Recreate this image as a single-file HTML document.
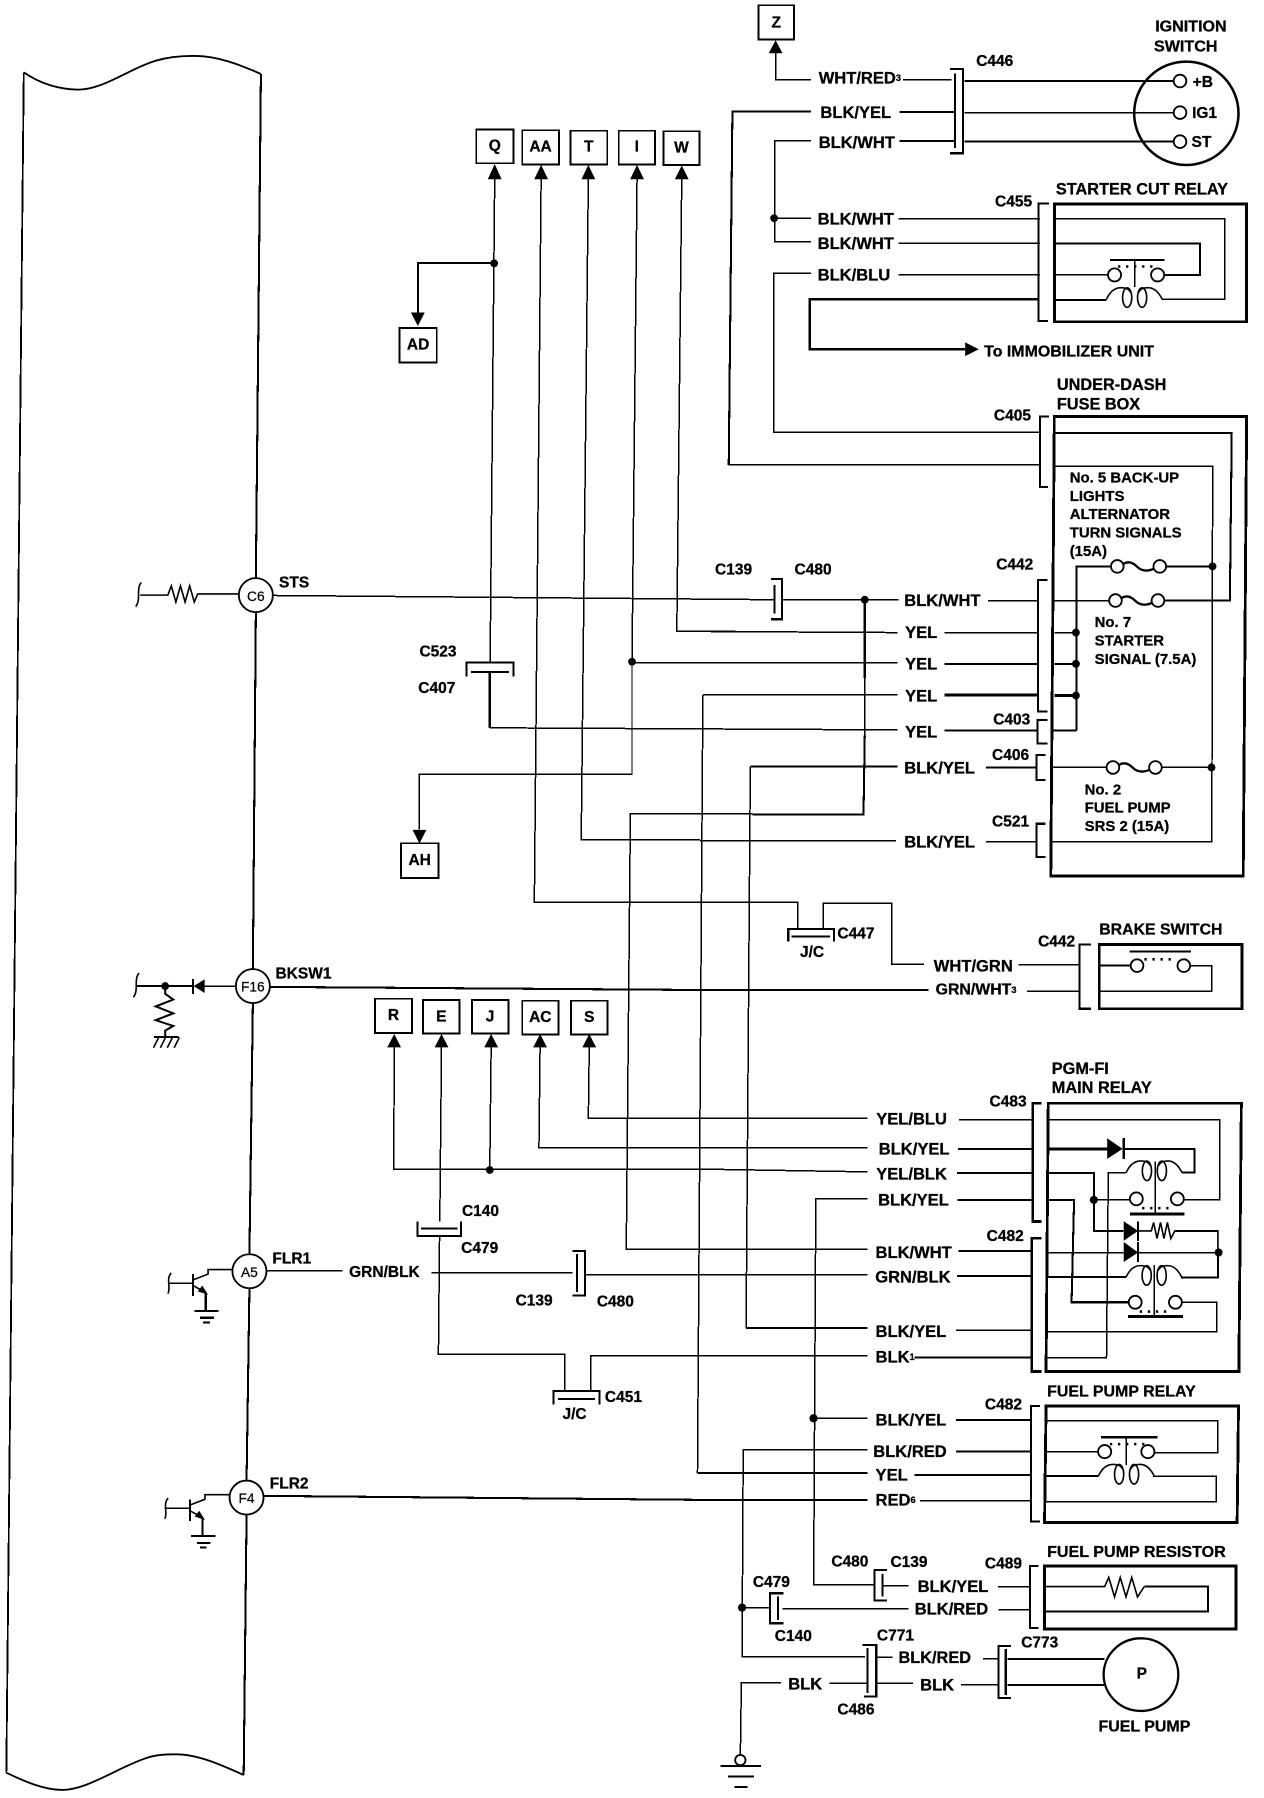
<!DOCTYPE html>
<html><head><meta charset="utf-8"><title>Wiring diagram</title>
<style>
html,body{margin:0;padding:0;background:#fff}
svg{display:block}
.w{fill:none;stroke:#000;stroke-width:1.3;shape-rendering:crispEdges}
.h{fill:none;stroke:#000;stroke-width:1.8;shape-rendering:crispEdges}
.x{fill:none;stroke:#000;stroke-width:2.5;shape-rendering:crispEdges}
.n{fill:none;stroke:#000;stroke-width:1.4}
.o{fill:#fff;stroke:#000;stroke-width:1.6}
.d{fill:none;stroke:#000;stroke-width:2.2;stroke-dasharray:2 5}
.b{fill:#000;stroke:none}
text{font-family:"Liberation Sans",sans-serif;font-weight:700;fill:#000;dominant-baseline:central;stroke:#000;stroke-width:.25}
.l{font-size:14.4px}
.c{font-size:13.5px}
.t{font-size:14.2px}
.f{font-size:13px}
.p{font-size:12px;font-weight:400;text-anchor:middle;stroke-width:.2}
.m{text-anchor:middle;font-size:13.5px}
</style></head><body>
<svg xmlns="http://www.w3.org/2000/svg" width="1264" height="1798" viewBox="0 0 1100 1565">
<defs>
<g id="coil"><path class="n" d="M0 0Q5-11 14-10Q19-10 21-6M48.5 0Q43-11 35-10Q30-10 28-6"/><ellipse class="n" cx="18" cy="-1.5" rx="4" ry="8.5"/><ellipse class="n" cx="31" cy="-1.5" rx="4" ry="8.5"/></g>
<g id="fuse"><path class="n" style="stroke-width:2" d="M5-2Q11-6 17 0T32 2"/><circle class="o" cx="0" cy="0" r="5.5"/><circle class="o" cx="37" cy="0" r="5.5"/></g>
<g id="tran"><path class="w" d="M146 0H167"/><path class="h" d="M168-8V11"/><path class="n" d="M146 9C149 4 144-4 149-9"/><path class="n" d="M168-3L181-8V-12H203M168 2L179 8"/><path class="b" d="M181 10L172 7L176 2Z"/><path class="h" d="M179 8V24"/><path class="h" d="M169 24H190"/><path class="h" d="M174 30H186"/><path class="h" d="M176.500 34H182.500"/></g>
</defs>
<rect width="1100" height="1565" fill="#fff"/>

<!-- PCM outline -->
<path class="n" style="stroke-width:1.6" d="M20.600 63C35 73 52 78 68 78C90 78 112 60 135 53C148 49 160 48.500 170 48.700C190 49 208 56 227 64.400"/>
<path class="h" d="M227 64.400L222.600 503M222.600 533L220 844M220 873L217 1092M217 1122L214.500 1289M214.500 1319L212 1545"/>
<path class="w" style="stroke-width:1.6" d="M20.600 63L5.400 1543"/>
<path class="n" style="stroke-width:1.6" d="M5.400 1543C20 1550 38 1558 54 1558C75 1558 100 1540 125 1531C135 1527 145 1527 153 1527C172 1527 192 1536 212 1545"/>

<!-- Pins -->
<circle class="o" cx="222.600" cy="518" r="14.800"/><text class="p" x="222.600" y="519">C6</text>
<circle class="o" cx="220" cy="858.300" r="14.800"/><text class="p" x="220" y="859">F16</text>
<circle class="o" cx="217" cy="1106.500" r="14.800"/><text class="p" x="217" y="1107.500">A5</text>
<circle class="o" cx="214.500" cy="1303.500" r="14.800"/><text class="p" x="214.500" y="1304.500">F4</text>
<text class="c" x="242.800" y="507.300">STS</text>
<text class="c" x="239.700" y="847.700">BKSW1</text>
<text class="c" x="237" y="1096">FLR1</text>
<text class="c" x="234.700" y="1291.500">FLR2</text>

<!-- left internal parts -->
<path class="n" d="M118 528C123 522 118 512 123 507"/>
<path class="n" d="M122 518H146L149 510L153 524L157 510L161 524L165 510L169 524L172 517H208"/>
<path class="n" d="M116 868C121 862 116 852 121 847"/>
<path class="h" d="M118.500 858.300H167"/><path class="h" d="M167.800 852V865"/>
<path class="b" d="M168.500 858.300L178 852.300V864.300Z"/><path class="w" d="M178 858.300H205"/>
<circle class="b" cx="143.700" cy="858.300" r="3.400"/>
<path class="n" style="stroke-width:1.8" d="M143.700 858V865L150.700 870L135.500 876L150.700 882L135.500 888L150.700 893L143.700 897V903"/>
<path class="h" d="M134 902.700H155.400"/>
<path class="n" d="M138 903L133.500 912M144 903L139.500 912M150 903L145.500 912M156 903L151.500 912"/>
<use href="#tran" transform="translate(0 1117)"/>
<use href="#tran" transform="translate(-2.700 1313)"/>

<!-- Q, AA, T, I, W boxes -->
<g>
<rect class="w" style="stroke-width:1.6" x="414.500" y="112.600" width="32.300" height="29.500"/>
<rect class="w" style="stroke-width:1.6" x="454.500" y="113.400" width="31.900" height="29.900"/>
<rect class="w" style="stroke-width:1.6" x="496.500" y="113.800" width="31.900" height="29.500"/>
<rect class="w" style="stroke-width:1.6" x="538.500" y="113.800" width="31.500" height="29.500"/>
<rect class="w" style="stroke-width:1.6" x="577.300" y="114.300" width="31.500" height="29.300"/>
<rect class="w" style="stroke-width:1.6" x="347.700" y="285.500" width="32.300" height="29.900"/>
<rect class="w" style="stroke-width:1.6" x="349" y="734" width="32.500" height="30.300"/>
<rect class="w" style="stroke-width:1.6" x="326.300" y="869.300" width="32.300" height="29.700"/>
<rect class="w" style="stroke-width:1.6" x="368" y="870.300" width="32" height="29.400"/>
<rect class="w" style="stroke-width:1.6" x="410.600" y="870.300" width="31.900" height="29.400"/>
<rect class="w" style="stroke-width:1.6" x="454.500" y="871" width="31.500" height="29.400"/>
<rect class="w" style="stroke-width:1.6" x="496.900" y="871" width="31.800" height="29.400"/>
<rect class="w" style="stroke-width:1.6" x="660" y="4.500" width="31" height="30"/>
</g>
<text class="m" x="430.600" y="127">Q</text><text class="m" x="470.400" y="128">AA</text><text class="m" x="512.400" y="128">T</text><text class="m" x="554.200" y="128">I</text><text class="m" x="593" y="129">W</text>
<text class="m" x="363.800" y="300.500">AD</text><text class="m" x="365.200" y="749">AH</text>
<text class="m" x="342.400" y="884">R</text><text class="m" x="384" y="885">E</text><text class="m" x="426.500" y="885">J</text><text class="m" x="470.200" y="885.500">AC</text><text class="m" x="512.800" y="885.500">S</text>
<text class="m" x="675.500" y="20">Z</text>

<!-- arrowheads -->
<path class="b" d="M430.500 142.700L424.500 156H436.500ZM470.900 143.500L464.900 156H476.900ZM512 143.500L506 156H518ZM554.400 143.500L548.400 156H560.400ZM593.300 144L587.300 156H599.300ZM363.600 283.700L357.600 272H369.600ZM365 734.300L359 722.300H371ZM343 900L337 911.700H349ZM384.200 900L378.200 911.700H390.200ZM427.400 900L421.400 911.700H433.400ZM470 900L464 911.700H476ZM512.800 900L506.800 911.700H518.800ZM675 35L669 46.400H681ZM851.800 304L840 298V310Z"/>

<!-- vertical harness wires -->
<path class="w" d="M430.500 155L426.500 576.700"/>
<path class="h" d="M430 229H363.600V272"/>
<circle class="b" cx="430" cy="229.200" r="3.400"/>
<path class="h" d="M406 589V576.700H446.800V589"/><path class="h" d="M410 585H443"/>
<text class="c" x="365" y="567.300">C523</text><text class="c" x="364" y="599.300">C407</text>
<path class="h" d="M426.200 585V633.500"/>
<path class="w" d="M426.200 633.500L781 635.300"/>
<path class="w" d="M470.900 155L465 785.500H694.400V808.800"/>
<path class="w" d="M512 155L505.800 731H609"/>
<path class="w" d="M554.400 155L550 576V673.800H365V722"/>
<circle class="b" cx="550" cy="576" r="3.400"/>
<path class="w" d="M593.300 155L589 549.500H640"/>
<path class="w" d="M550 576.700H781"/>
<path class="w" d="M589 549.500L781 550.600"/>
<path class="w" d="M237 518.300L674 522"/>

<!-- Top section -->
<path class="w" d="M675 46V69.600H706"/>
<text class="l" x="712.500" y="68">WHT/RED<tspan font-size="8">3</tspan></text>
<path class="w" d="M786 69.600H828"/>
<path class="h" d="M827 60H838V133.400H827"/><path class="h" d="M831 64V129"/>
<text class="c" x="849.600" y="53.700">C446</text>
<path class="h" d="M839.300 70.500H1021.900"/>
<path class="w" d="M839.300 98H1021.900"/>
<path class="h" d="M839.300 123.300H1021.900"/>
<ellipse class="n" style="stroke-width:2.2" cx="1032.500" cy="98.600" rx="45.400" ry="45"/>
<circle class="o" cx="1027" cy="70.500" r="5.500"/><circle class="o" cx="1027" cy="98" r="5.500"/><circle class="o" cx="1027" cy="123.300" r="5.500"/>
<text class="c" x="1038" y="72">+B</text><text class="c" x="1037.500" y="99">IG1</text><text class="c" x="1037" y="124">ST</text>
<text class="c" x="1036.500" y="23" text-anchor="middle" style="font-size:14px">IGNITION</text>
<text class="c" x="1032" y="40.600" text-anchor="middle" style="font-size:14px">SWITCH</text>

<text class="l" x="714" y="98">BLK/YEL</text>
<path class="h" d="M706 97H637.400L634.200 404.600"/>
<path class="w" d="M634.200 404.600H905"/>
<path class="h" d="M783 97.500H831"/>
<text class="l" x="712.500" y="124">BLK/WHT</text>
<path class="w" d="M706 122.700H674.300V210.300H706"/>
<path class="h" d="M783 122.700H831"/>
<circle class="b" cx="673.700" cy="190" r="3.400"/>
<path class="w" d="M674 190H706"/>
<text class="l" x="711.600" y="190.600">BLK/WHT</text>
<text class="l" x="711.600" y="211.800">BLK/WHT</text>
<text class="l" x="711.600" y="239.300">BLK/BLU</text>
<path class="w" d="M782 190.600H905M782 211.800H905M782 239.300H905"/>
<path class="w" d="M706 238H673.400V376.300H905"/>

<!-- Starter cut relay -->
<text class="t" x="919" y="165">STARTER CUT RELAY</text>
<text class="c" x="866" y="176">C455</text>
<path class="h" d="M913 177H904V279.400H912"/>
<rect class="x" x="917.600" y="177.500" width="167.400" height="102.500"/>
<path class="w" d="M917.600 190.600H1066V260.500H1011.500"/>
<path class="h" d="M917.600 211.800H1044.400V239.300H1013"/>
<path class="w" d="M917.600 239.300H964.500"/>
<path class="h" d="M917.600 261H963"/>
<path class="h" d="M966 226.300H1013.700"/>
<path class="d" d="M973 232H1006"/>
<path class="w" d="M987.400 226V250"/>
<circle class="o" cx="970" cy="239.300" r="5.700"/><circle class="o" cx="1007.500" cy="239.300" r="5.700"/>
<use href="#coil" transform="translate(963 260.500)"/>
<path class="h" d="M903.500 260.500H704.700V304H840"/>
<text class="c" x="856.500" y="306.600" style="font-size:13.900px">To IMMOBILIZER UNIT</text>

<!-- Under-dash fuse box -->
<text class="t" x="919.800" y="335">UNDER-DASH</text>
<text class="t" x="919.800" y="352">FUSE BOX</text>
<text class="c" x="865" y="362">C405</text>
<path class="h" d="M913 362.600H905V424H912"/>
<path class="x" d="M914.500 762.400H1082L1085 362.600H917.600Z"/>
<path class="h" d="M917.600 377H1072L1070.400 522.700H1013"/>
<path class="w" d="M917.600 406H1055.400L1054.700 732.500H914.500"/>
<circle class="b" cx="1055.300" cy="493" r="3.400"/><circle class="b" cx="1054.400" cy="668" r="3.400"/>
<path class="h" d="M936.800 636V493H966M1015 493H1055"/>
<path class="h" d="M936.800 636H916"/>
<use href="#fuse" transform="translate(972.400 493)"/>
<path class="w" d="M917.600 522.700H966"/>
<use href="#fuse" transform="translate(970.800 522.700)"/>
<path class="w" d="M915.400 668H963M1010 668H1054"/>
<use href="#fuse" transform="translate(968.600 668)"/>
<path class="w" d="M917.600 550.600H936"/><path class="h" d="M917.600 577.800H936"/><path class="x" d="M917.600 605.400H936"/>
<circle class="b" cx="936.400" cy="550.600" r="3.400"/><circle class="b" cx="936.400" cy="577.800" r="3.400"/><circle class="b" cx="936.400" cy="605.400" r="3.400"/>
<text class="f" x="931" y="416">No. 5 BACK-UP</text>
<text class="f" x="931" y="432">LIGHTS</text>
<text class="f" x="931" y="448">ALTERNATOR</text>
<text class="f" x="931" y="464">TURN SIGNALS</text>
<text class="f" x="931" y="480">(15A)</text>
<text class="f" x="952.700" y="542">No. 7</text>
<text class="f" x="952.700" y="558">STARTER</text>
<text class="f" x="952.700" y="574">SIGNAL (7.5A)</text>
<text class="f" x="944" y="687.500">No. 2</text>
<text class="f" x="944" y="703.500">FUEL PUMP</text>
<text class="f" x="944" y="719.500">SRS 2 (15A)</text>

<path class="h" d="M911.500 505H903.500V619.300H911.500"/>
<path class="h" d="M911.500 626.600H903V647H911.500"/>
<path class="h" d="M910 657H902V678.800H910"/>
<path class="h" d="M909.800 717H902V746H909.800"/>
<text class="c" x="867" y="491.700">C442</text><text class="c" x="864.400" y="626.600">C403</text><text class="c" x="863.400" y="657.600">C406</text><text class="c" x="863.400" y="715.600">C521</text>
<text class="c" x="622.300" y="496">C139</text><text class="c" x="691.500" y="496">C480</text>
<path class="h" d="M671 504H680.600V539H671"/><path class="h" d="M674 509V534"/>
<path class="w" d="M681 522H782"/>
<circle class="b" cx="752.600" cy="522" r="3.400"/>
<path class="h" d="M752.600 522V590"/><path class="w" d="M752.600 590V640"/><path class="h" d="M752.600 640L751.500 709H655"/><path class="w" d="M655 708.500H548.600L545 1087.500H755"/>

<text class="l" x="787" y="522.700">BLK/WHT</text>
<text class="l" x="787.700" y="550.600">YEL</text>
<text class="l" x="787.700" y="578">YEL</text>
<text class="l" x="787.700" y="606">YEL</text>
<text class="l" x="787.700" y="637">YEL</text>
<text class="l" x="787" y="668.600">BLK/YEL</text>
<text class="l" x="787" y="733">BLK/YEL</text>
<path class="w" d="M859.700 523H903.500M822 550.600H903"/>
<path class="h" d="M822 577.800H903"/><path class="x" d="M822 604.800H903"/><path class="h" d="M822 636H903M858 668H902"/>
<path class="w" d="M858 732.500H902"/>
<path class="w" d="M611.700 604.800H781"/>
<path class="w" d="M611.700 604.800L607 1282.300"/><path class="h" d="M607 1282.300H755"/>
<path class="h" d="M653 667H781"/>
<path class="w" d="M653 667L649.300 1156"/><path class="h" d="M649.300 1156H755"/>
<path class="w" d="M609 731.600H780"/>

<!-- C447 brake -->
<path class="h" d="M686 819.600V808.800H725.700V819.600"/><path class="h" d="M689 815H722.500"/>
<path class="w" d="M716.300 808.800V786H776V839.300H804.300"/>
<text class="c" x="696.200" y="829">J/C</text><text class="c" x="728.800" y="812.900">C447</text>
<text class="l" x="812.700" y="840.700">WHT/GRN</text>
<text class="l" x="814.300" y="861.600" style="font-size:13.800px">GRN/WHT<tspan font-size="8">3</tspan></text>
<path class="h" d="M235 859L609 861.700H808"/>
<path class="w" d="M886.300 839.900H939.500M894 863H939.500"/>
<path class="h" d="M949.500 822H939.500V878H949.500"/>
<text class="c" x="903.500" y="820">C442</text>
<text class="t" x="956.700" y="809.400" style="font-size:13.800px">BRAKE SWITCH</text>
<rect class="x" x="956.700" y="822" width="124.300" height="56"/>
<path class="h" d="M956.700 840.500H984"/><path class="w" d="M1035 840.500H1054.700V863H956.700"/>
<path class="h" d="M983 828.300H1036.600"/>
<path class="d" d="M996 835H1024"/>
<circle class="o" cx="989.600" cy="840.500" r="5.500"/><circle class="o" cx="1030.300" cy="840.500" r="5.500"/>

<!-- lower harness -->
<path class="w" d="M343 911L342.700 1017.600H609L755 1020"/>
<circle class="b" cx="426.200" cy="1018.400" r="3.400"/>
<path class="w" d="M427.400 911L426.200 1018"/>
<path class="w" d="M384.200 911L382.700 1063"/>
<path class="h" d="M363.200 1063V1075.900H401.300V1063"/><path class="h" d="M366.400 1069.300H398.200"/>
<text class="c" x="402" y="1054.500">C140</text><text class="c" x="401.300" y="1086.800">C479</text>
<path class="w" d="M382.500 1076L381.500 1178.900H491.500V1210.700"/>
<path class="h" d="M481.700 1222.400V1210.700H521.800V1222.400"/><path class="h" d="M485.600 1217.700H517.900"/>
<path class="w" d="M514 1210.700V1180H755"/>
<text class="c" x="489.500" y="1231.300">J/C</text><text class="c" x="526.400" y="1216.500">C451</text>
<path class="w" d="M470 911L469 999H755"/>
<path class="w" d="M512.800 911L512 973.500H755"/>
<path class="w" d="M232 1106.200H298"/>
<text class="l" x="303.800" y="1107.700" style="font-size:13.500px">GRN/BLK</text>
<path class="w" d="M375.700 1108H498.400"/>
<path class="h" d="M498.400 1088.700H509V1127.600H498.400"/><path class="h" d="M502 1091.400V1124.500"/>
<path class="w" d="M510 1109.700H755"/>
<text class="c" x="448.700" y="1132.200">C139</text><text class="c" x="519.400" y="1133.400">C480</text>
<path class="h" d="M229 1302L609 1305.500H755"/>

<!-- PGM-FI -->
<text class="t" x="915.400" y="930.400">PGM-FI</text><text class="t" x="915.400" y="947">MAIN RELAY</text>
<text class="c" x="861.200" y="959.400">C483</text><text class="c" x="858.700" y="1076.300">C482</text>
<path class="x" d="M906.600 960.300H898.800V1063.300H906.600"/>
<path class="x" d="M906.600 1077.800H897.900V1193.900H906.600"/>
<path class="x" d="M910.400 1193.900H1078.200L1080.400 960.300H912.300Z"/>
<text class="l" x="762.600" y="974">YEL/BLU</text>
<text class="l" x="764.800" y="1000">BLK/YEL</text>
<text class="l" x="762.600" y="1022">YEL/BLK</text>
<text class="l" x="764.200" y="1044.400">BLK/YEL</text>
<text class="l" x="762" y="1090">BLK/WHT</text>
<text class="l" x="761.700" y="1111.700">GRN/BLK</text>
<text class="l" x="762" y="1159">BLK/YEL</text>
<text class="l" x="762" y="1181" >BLK<tspan font-size="8">1</tspan></text>
<path class="w" d="M834.600 974.800H898.800"/><path class="h" d="M833.700 1000H898.800M833 1021H898.800M833.300 1044.400H898.800"/>
<path class="h" d="M834 1089H897M833 1110.500H897"/><path class="w" d="M832 1158H897"/><path class="h" d="M796 1181.400H897"/>
<path class="w" d="M755 1043.500H710L708.100 1379.500H761"/>
<path class="w" d="M912.300 974.800H1061.600V1044.400H1030"/>
<path class="x" d="M912.300 1000H964"/><path class="h" d="M978 1000H1039.700V1020.600H1028.700"/>
<path class="b" d="M963.600 990.700L977 1000L963.600 1008.700Z"/><path class="h" d="M978 990.700V1008.700"/>
<use href="#coil" transform="translate(980.200 1020.600)"/>
<path class="w" d="M980.200 1020.600H964.600L963 1182H910.400"/>
<path class="h" d="M912.300 1021H952V1071.400H978"/>
<path class="w" d="M952 1044.400H984"/>
<circle class="b" cx="952" cy="1044.400" r="3.500"/>
<circle class="o" cx="989" cy="1043.500" r="5.600"/><circle class="o" cx="1024.700" cy="1043.500" r="5.600"/>
<path class="w" d="M1005.300 1011V1056.600"/>
<path class="x" d="M983.300 1056.600H1031"/><path class="d" d="M994 1051.600H1020"/>
<path class="h" d="M912.300 1044.400H934.800L932.600 1133.500H983"/>
<path class="b" d="M978 1063L990.500 1071.400L978 1080Z"/><path class="h" d="M990.500 1063V1080"/>
<path class="n" d="M990.500 1071.400H1002L1004 1064L1007 1078L1010 1064L1013 1078L1016 1064L1019 1078L1022.500 1071.400H1060V1112H1028"/>
<path class="h" d="M1022.500 1071.400H1060"/>
<path class="h" d="M1060 1090V1112H1028"/>
<circle class="b" cx="1060.600" cy="1090.200" r="3.500"/>
<path class="w" d="M911.500 1090.200H978M990.500 1090.200H1060"/>
<path class="b" d="M978 1081L990.500 1090.200L978 1098.500Z"/><path class="h" d="M990.500 1081V1098.500"/>
<path class="h" d="M911.500 1111.700H980"/>
<use href="#coil" transform="translate(980 1111.700)"/>
<path class="w" d="M1004.600 1101V1146"/>
<circle class="o" cx="988" cy="1133.500" r="5.600"/><circle class="o" cx="1023" cy="1133.500" r="5.600"/>
<path class="w" d="M1028.700 1133.500H1059V1159H910.400"/>
<path class="x" d="M981.800 1146H1029.400"/><path class="d" d="M992 1141.600H1018"/>
<path class="w" d="M910.400 1182H963"/>

<!-- Fuel pump relay -->
<text class="t" x="911.300" y="1211.800" style="font-size:13.900px">FUEL PUMP RELAY</text>
<text class="c" x="857.200" y="1222.900">C482</text>
<path class="h" d="M905 1223.700H897.200V1324.400H905"/>
<path class="x" d="M909.100 1325.300H1076.700L1077.900 1223.700H910.400Z"/>
<text class="l" x="762" y="1236">BLK/YEL</text>
<text class="l" x="760" y="1263.500">BLK/RED</text>
<text class="l" x="762" y="1283.800">YEL</text>
<text class="l" x="762" y="1305.500">RED<tspan font-size="8">6</tspan></text>
<path class="w" d="M708 1234.500H754.800"/><circle class="b" cx="708" cy="1234.500" r="3.600"/>
<path class="h" d="M832 1236H897.200M832 1263.500H897.200M796 1284H897.200"/><path class="w" d="M800.800 1306.400H897.200"/>
<path class="w" d="M754.800 1262H646.800L645.800 1441.900H753"/>
<circle class="b" cx="645.800" cy="1399.300" r="3.600"/>
<path class="w" d="M910.400 1236.500H1060V1264.400H1005"/>
<path class="w" d="M910.400 1263.500H956"/>
<circle class="o" cx="961.400" cy="1263.500" r="5.700"/><circle class="o" cx="999" cy="1263.500" r="5.700"/>
<path class="x" d="M958.300 1251H1007.500"/><path class="w" d="M980.200 1251V1275"/><path class="d" d="M966 1257H1000"/>
<path class="h" d="M910.400 1284.700H956"/><use href="#coil" transform="translate(956 1284.700)"/>
<path class="w" d="M1003.700 1285H1058.500V1307H909"/>

<!-- Resistor -->
<text class="t" x="911.300" y="1351" style="font-size:14px">FUEL PUMP RESISTOR</text>
<text class="c" x="857.200" y="1361.500">C489</text>
<path class="h" d="M904 1363H896.300V1417H904"/>
<rect class="x" x="909" y="1363" width="166.700" height="55"/>
<text class="l" x="798.600" y="1381">BLK/YEL</text><text class="l" x="796.100" y="1400.700">BLK/RED</text>
<path class="w" d="M868.400 1381H895.700M869 1401.300H895.700"/>
<path class="n" d="M909 1381H961.400L965 1373L970 1390L975 1373L980 1390L985 1373L990 1390L995.900 1381"/>
<path class="h" d="M996 1381H1051.300V1402.700H909"/>
<path class="h" d="M772 1366.500H761V1393H772"/><path class="h" d="M768 1370V1389.700"/>
<path class="w" d="M769 1380.400H790.800"/>
<text class="c" x="723.500" y="1359.800">C480</text><text class="c" x="775" y="1360">C139</text>
<path class="w" d="M645.800 1399.300H670.300"/>
<path class="h" d="M681.800 1386.800H670.300V1412.900H681.800"/><path class="h" d="M677 1389.700V1410"/>
<path class="w" d="M681.200 1400.400H790.800"/>
<text class="c" x="655.200" y="1377.500">C479</text><text class="c" x="674.300" y="1424.500">C140</text>

<!-- Fuel pump -->
<path class="h" d="M750.700 1431.700H762.600V1476.700H752"/><path class="h" d="M754.800 1434.600V1473.800"/>
<text class="c" x="763.200" y="1424">C771</text><text class="c" x="728.800" y="1488.300">C486</text>
<text class="l" x="782" y="1443.300" style="font-size:14.200px">BLK/RED</text>
<path class="w" d="M763.500 1442.500H776.700M855.600 1444H869"/>
<text class="l" x="686" y="1465.700">BLK</text><text class="l" x="800.800" y="1466.600">BLK</text>
<path class="w" d="M679.600 1464.500H645.200L644.300 1527.500M721.900 1465H754.800M762.600 1465H794.500M836.200 1466.600H869"/>
<path class="h" d="M880 1432.600H869V1478H880"/><path class="h" d="M875.300 1435.500V1475.300"/>
<text class="c" x="888.800" y="1430.300">C773</text>
<path class="h" d="M877 1444H961.400M877 1466.600H961.400"/>
<ellipse class="o" style="stroke-width:2" cx="993" cy="1457.600" rx="32.500" ry="31.600"/>
<text class="c" x="993.700" y="1457" text-anchor="middle">P</text>
<text class="t" x="956" y="1503" style="font-size:13.900px">FUEL PUMP</text>
<circle class="o" cx="644.300" cy="1532" r="4.500"/>
<path class="h" d="M627 1537H662.400M633.600 1546.300H656M639 1555.600H650.500"/>
</svg>
</body></html>
